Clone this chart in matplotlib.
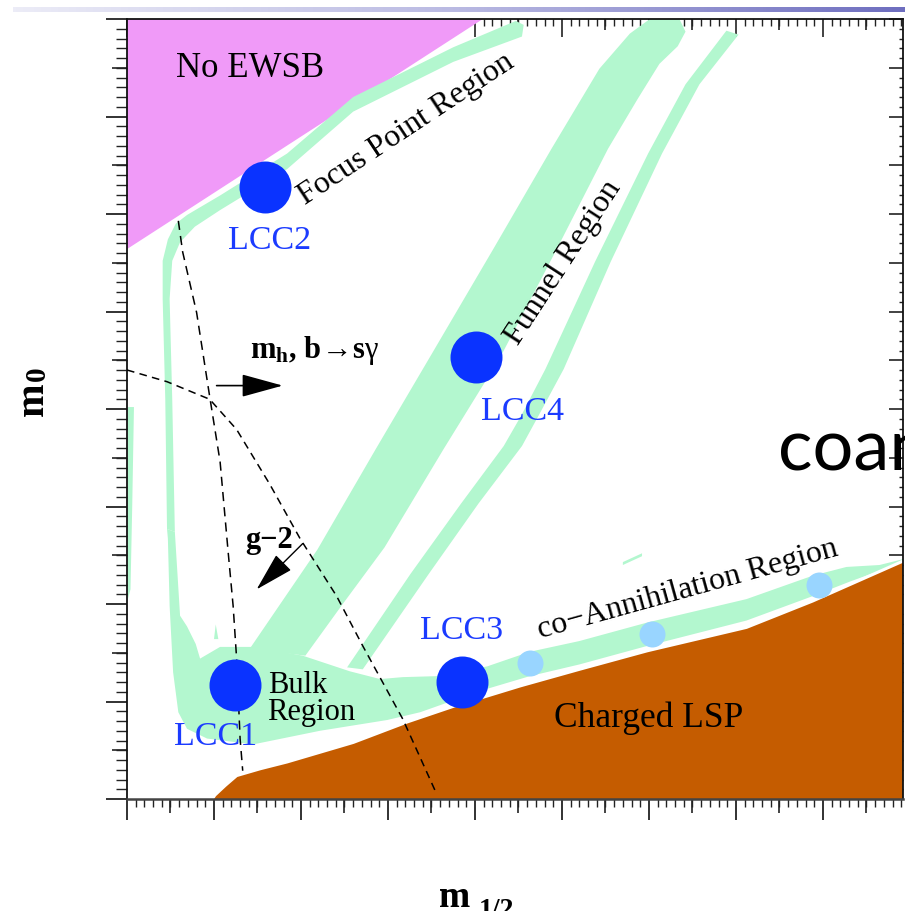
import numpy as np
import matplotlib
matplotlib.use("Agg")
import matplotlib.pyplot as plt
from matplotlib.ticker import MultipleLocator, FixedLocator, NullLocator
from matplotlib.colors import LinearSegmentedColormap

plt.rcParams['mathtext.fontset'] = 'custom'
plt.rcParams['mathtext.rm'] = 'Liberation Serif'
plt.rcParams['mathtext.bf'] = 'Liberation Serif:bold'
plt.rcParams['mathtext.it'] = 'Liberation Serif:italic'
SERIF = ['Liberation Serif', 'DejaVu Serif']

# ---------------- data (m_1/2 , m_0 in arbitrary schematic units) ----------------
no_ewsb = [(0, 800), (409, 800), (0, 564)]

focus_band = [(447, 798), (375, 771), (260, 720), (184, 662), (107, 619), (69, 599),
              (56, 590), (47, 574), (41, 552), (41, 513), (44, 410), (46, 277),
              (55, 274), (52, 410), (49, 513), (52, 552), (61, 571), (78, 587),
              (107, 604), (184, 646), (260, 705), (375, 756), (454, 782), (456, 794)]

bulk_coann = [(46, 277), (47, 267), (49, 198), (53, 130), (59, 89), (69, 72), (92, 62),
              (145, 56), (222, 70), (299, 81), (337, 89), (375, 101), (414, 113),
              (463, 126), (520, 138), (598, 157), (712, 183), (788, 208), (831, 223),
              (865, 234), (892, 242), (892, 246), (865, 240), (827, 238), (788, 229),
              (712, 205), (598, 181), (520, 162), (463, 151), (414, 136), (385, 131),
              (356, 126), (317, 125), (291, 123), (256, 131), (202, 147), (147, 156),
              (107, 156), (84, 144), (79, 159), (69, 177), (61, 188), (55, 274)]

funnel_band = [(141, 154), (219, 256), (286, 359), (348, 453), (421, 564), (488, 667),
               (543, 749), (578, 785), (601, 800), (618, 805),
               (635, 800), (642, 787), (633, 772), (612, 754), (587, 718), (553, 667),
               (494, 564), (429, 453), (364, 359), (296, 258), (248, 200), (205, 147)]

funnel_thin = [(253, 135), (326, 231), (384, 303), (433, 362), (453, 393), (481, 441),
               (538, 551), (599, 662), (642, 733), (689, 788), (703, 784), (658, 733),
               (615, 662), (556, 551), (502, 441), (473, 393), (454, 362), (404, 303),
               (347, 231), (271, 133)]

left_strip = [(1, 402), (8, 402), (6, 300), (4, 215), (1, 205)]
spike = [(100, 164), (102, 179), (105, 164)]
dash_piece = [(570, 240), (592, 249), (592, 252), (570, 243)]

charged_lsp = [(98, 0), (101, 4), (113, 14), (126, 24), (153, 31), (184, 38), (260, 58),
               (322, 79), (375, 95), (452, 116), (520, 133), (598, 152), (712, 176),
               (788, 203), (892, 244), (892, 0)]

mh_bsg_x = [0, 46, 95, 126, 164, 199, 241, 271, 317, 356]
mh_bsg_y = [440, 428, 410, 379, 323, 267, 208, 157, 82, 5]

g2_x = [59, 64, 80, 95, 107, 116, 122, 126, 130, 133]
g2_y = [593, 561, 499, 413, 346, 256, 198, 144, 62, 29]

lcc_names = ['LCC1', 'LCC2', 'LCC3', 'LCC4']
lcc_x = [124, 159, 385, 401]
lcc_y = [117, 628, 120, 453]

extra_x = [463, 603, 796]
extra_y = [139, 169, 219]

# ---------------- figure ----------------
fig = plt.figure(figsize=(9.05, 9.12), dpi=100)
fig.patch.set_facecolor('white')

# slide title bar gradient
gax = fig.add_axes([13/905, 1-13/912, 892/905, 5/912])
cmap = LinearSegmentedColormap.from_list('bar', ['#ececf7', '#b9b9e2', '#6e6ebf'])
gax.imshow(np.linspace(0, 1, 256)[None, :], aspect='auto', cmap=cmap)
gax.set_axis_off()

ax = fig.add_axes([127/905, 1-800/912, 776/905, 780/912])
ax.set_xlim(0, 892)
ax.set_ylim(0, 800)

GREEN = '#B3F7CF'
def fill(pts, color, z):
    xs, ys = zip(*pts)
    ax.fill(xs, ys, color=color, lw=0, zorder=z)

fill(no_ewsb, '#F09AF8', 1)
for reg in (focus_band, bulk_coann, funnel_band, funnel_thin, left_strip, spike, dash_piece):
    fill(reg, GREEN, 1.2)
fill(charged_lsp, '#C55C00', 1.5)
cx, cy = zip(*charged_lsp[:-1])
ax.plot(cx, cy, color='white', lw=2.2, zorder=1.6, solid_capstyle='butt')

ax.plot(mh_bsg_x, mh_bsg_y, color='black', lw=1.1, dashes=(5, 3.5), zorder=3)
ax.plot(g2_x, g2_y, color='black', lw=1.1, dashes=(6, 4), zorder=3)

ax.scatter(lcc_x, lcc_y, s=1400, color='#0A33FF', linewidths=0, zorder=6)
ax.scatter(extra_x, extra_y, s=350, color='#99D5FF', linewidths=0, zorder=6)

# arrows
ax.annotate('', xy=(179, 424), xytext=(103, 424),
            arrowprops=dict(arrowstyle='-|>,head_length=0.4,head_width=0.11',
                            mutation_scale=65, lw=1.2, color='black',
                            shrinkA=0, shrinkB=0), zorder=5)
ax.annotate('', xy=(149, 215), xytext=(202, 262),
            arrowprops=dict(arrowstyle='-|>,head_length=0.4,head_width=0.11',
                            mutation_scale=62, lw=1.0, color='black',
                            shrinkA=0, shrinkB=0), zorder=5)

# labels
LBLUE = '#1B3BFF'
lcc_text_pos = [(102, 65), (164, 574), (384, 174), (455, 398)]
for name, (tx, ty) in zip(lcc_names, lcc_text_pos):
    ax.text(tx, ty, name, color=LBLUE, fontsize=24.5, family=SERIF,
            ha='center', va='center', zorder=7)

ax.text(141, 750, 'No EWSB', fontsize=25, family=SERIF, ha='center', va='center', zorder=7)
ax.text(205, 610, 'Focus Point Region', fontsize=23, family=SERIF, rotation=33.5,
        rotation_mode='anchor', ha='left', va='baseline', zorder=7)
ax.text(450, 465, 'Funnel Region', fontsize=23, family=SERIF, rotation=57,
        rotation_mode='anchor', ha='left', va='baseline', zorder=7)
ax.text(475, 166, 'co\u2212Annihilation Region', fontsize=23, family=SERIF, rotation=15.5,
        rotation_mode='anchor', ha='left', va='baseline', zorder=7)
ax.text(600, 84, 'Charged LSP', fontsize=25.5, family=SERIF, ha='center', va='center', zorder=7)
ax.text(162, 110, 'Bulk', fontsize=22, family=SERIF, ha='left', va='baseline', zorder=7)
ax.text(161, 82, 'Region', fontsize=22, family=SERIF, ha='left', va='baseline', zorder=7)
ax.text(141, 453, r'$\mathbf{m_h,\,b}\!\rightarrow\!\mathbf{s}\mathrm{\gamma}$',
        fontsize=22, ha='left', va='baseline', zorder=7)
ax.text(136, 258, 'g\u22122', fontsize=22, family=SERIF, weight='bold',
        ha='left', va='baseline', zorder=7)

# ticks
ax.xaxis.set_major_locator(MultipleLocator(100))
ax.xaxis.set_minor_locator(MultipleLocator(10))
ax.yaxis.set_major_locator(MultipleLocator(100))
ax.yaxis.set_minor_locator(MultipleLocator(10))
ax.tick_params(axis='x', which='major', direction='out', length=15, width=1.3,
               bottom=True, top=False, labelbottom=False, color='#222222')
ax.tick_params(axis='x', which='minor', direction='out', length=6, width=1.0,
               bottom=True, top=False, color='#222222')
ax.tick_params(axis='y', which='major', direction='out', length=15, width=1.3,
               left=True, right=False, labelleft=False, color='#222222')
ax.tick_params(axis='y', which='minor', direction='out', length=8, width=1.0,
               left=True, right=False, color='#222222')

half_x = np.arange(50, 892, 100)
half_y = np.arange(50, 800, 100)

def sec(which, loc, major, minor, direction, lmaj, lmin):
    if which == 'x':
        s = ax.secondary_xaxis(loc)
        a = s.xaxis
    else:
        s = ax.secondary_yaxis(loc)
        a = s.yaxis
    a.set_major_locator(major)
    a.set_minor_locator(minor)
    s.tick_params(axis=which, which='major', direction=direction, length=lmaj, width=1.2,
                  color='#222222', labelbottom=False, labeltop=False,
                  labelleft=False, labelright=False)
    s.tick_params(axis=which, which='minor', direction=direction, length=lmin, width=1.0,
                  color='#222222')
    for sp in s.spines.values():
        sp.set_visible(False)
    return s

sec('x', 'bottom', FixedLocator(half_x), NullLocator(), 'out', 10, 0)
sec('x', 'top', MultipleLocator(100), MultipleLocator(10), 'in', 13, 5)
sec('x', 'top', FixedLocator(half_x), NullLocator(), 'in', 8, 0)
sec('y', 'left', FixedLocator(half_y), NullLocator(), 'out', 11, 0)
sec('y', 'right', MultipleLocator(50), MultipleLocator(10), 'in', 10, 3)

for k in ('left', 'top', 'right'):
    ax.spines[k].set_linewidth(1.3)
    ax.spines[k].set_color('#111111')
ax.spines['bottom'].set_linewidth(1.8)
ax.spines['bottom'].set_color('#444444')

# axis titles (the lower one is cut by the slide edge as in the source)
fig.text(43/905, 1-416/912, 'm', fontsize=29, weight='bold', family=SERIF, rotation=90,
         rotation_mode='anchor', ha='left', va='baseline')
fig.text(45/905, 1-381/912, '0', fontsize=21, weight='bold', family=SERIF, rotation=90,
         rotation_mode='anchor', ha='left', va='baseline')
fig.text(439/905, 1-907/912, 'm', fontsize=27, weight='bold', family=SERIF,
         ha='left', va='baseline')
fig.text(479/905, 1-917/912, '1/2', fontsize=20, weight='bold', family=SERIF,
         ha='left', va='baseline')

# slide body text, cut at the right edge
fig.text(778/905, 1-470/912, 'coannihilation', fontsize=52,
         family=['Lato', 'DejaVu Sans'], ha='left', va='baseline', color='black')

fig.savefig('out.png', dpi=100)
